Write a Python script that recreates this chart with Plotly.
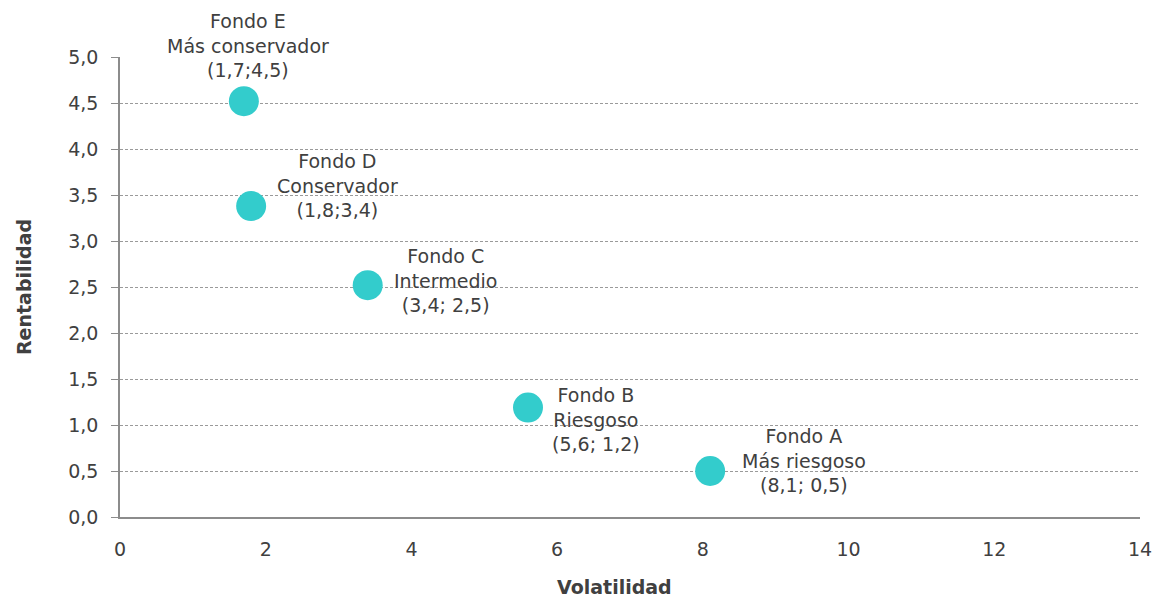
import plotly.graph_objects as go

fondos = ["Fondo E", "Fondo D", "Fondo C", "Fondo B", "Fondo A"]
perfiles = ["Más conservador", "Conservador", "Intermedio", "Riesgoso", "Más riesgoso"]
coord_labels = ["(1,7;4,5)", "(1,8;3,4)", "(3,4; 2,5)", "(5,6; 1,2)", "(8,1; 0,5)"]
volatilidad = [1.7, 1.8, 3.4, 5.6, 8.1]
rentabilidad = [4.52, 3.38, 2.52, 1.19, 0.5]

# label offsets (pixels) relative to each point
label_dx = [4, 86, 78, 68, 94]
label_dy = [56, 21, 5, -12, 11]

FONT = "DejaVu Sans"
TXT = "#404040"
AX = "#8c8c8c"

fig = go.Figure()
fig.add_trace(go.Scatter(
    x=volatilidad, y=rentabilidad, mode="markers",
    marker=dict(size=30, color="#33CCCC", line=dict(width=0)),
    hoverinfo="skip", showlegend=False, cliponaxis=False,
))

for i in range(len(fondos)):
    fig.add_annotation(
        x=volatilidad[i], y=rentabilidad[i], xref="x", yref="y",
        text=f"{fondos[i]}<br>{perfiles[i]}<br>{coord_labels[i]}",
        showarrow=False, xshift=label_dx[i], yshift=label_dy[i],
        font=dict(family=FONT, size=19, color=TXT), align="center",
        xanchor="center", yanchor="middle",
    )

# x-axis title (slightly left of centre, as in the original)
fig.add_annotation(
    x=0.485, y=0, xref="paper", yref="paper", yshift=-70,
    text="<b>Volatilidad</b>", showarrow=False,
    font=dict(family=FONT, size=19, color=TXT),
    xanchor="center", yanchor="middle",
)

# page body has an 8px margin, so the figure is 8px smaller and margins shifted
fig.update_layout(
    width=1156, height=598,
    margin=dict(l=112, r=24, t=49, b=89, autoexpand=False),
    paper_bgcolor="white", plot_bgcolor="white",
    separators=",.",
    font=dict(family=FONT, size=19, color=TXT),
    xaxis=dict(
        range=[0, 14], dtick=2, tick0=0, showgrid=False, zeroline=False,
        showline=True, linecolor=AX, linewidth=1.5,
        ticks="", ticklabelstandoff=14,
        tickfont=dict(family=FONT, size=19, color=TXT),
        automargin=False,
    ),
    yaxis=dict(
        range=[0, 5], dtick=0.5, tick0=0, tickformat=".1f",
        showgrid=True, gridcolor="#9a9a9a", griddash="3px,2px", gridwidth=1,
        zeroline=False, showline=True, linecolor=AX, linewidth=1.5,
        ticks="outside", ticklen=7, tickcolor=AX,
        ticklabelstandoff=9,
        tickfont=dict(family=FONT, size=19, color=TXT),
        title=dict(text="<b>Rentabilidad</b>", standoff=32,
                   font=dict(family=FONT, size=19, color=TXT)),
        automargin=False,
    ),
)

fig.write_html("out.html")
